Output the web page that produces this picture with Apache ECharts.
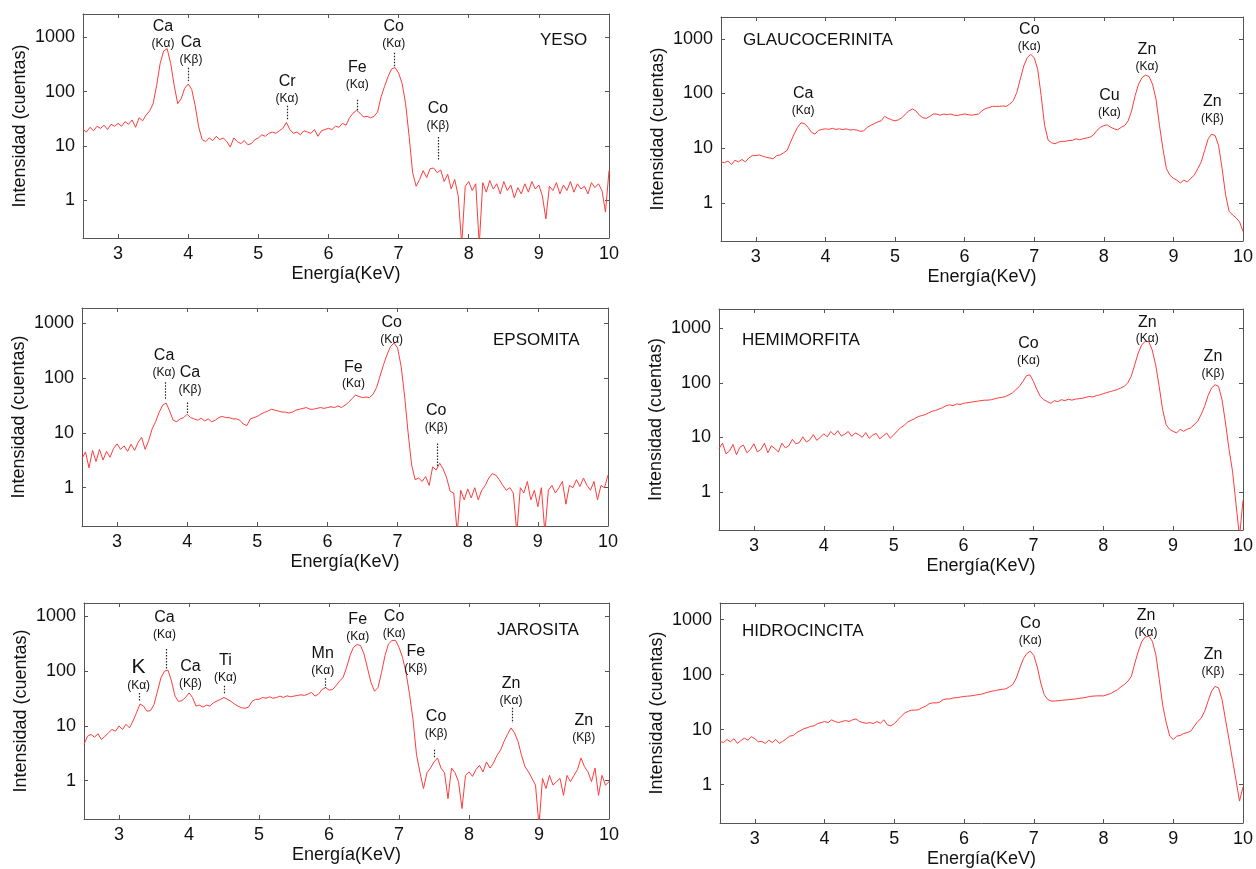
<!DOCTYPE html>
<html>
<head>
<meta charset="utf-8">
<title>Espectros XRF</title>
<script src="https://cdn.jsdelivr.net/npm/echarts@6/dist/echarts.min.js"></script>
<style>
  html, body { margin: 0; padding: 0; background: #fff; }
  #chart { width: 1256px; height: 869px; }
</style>
</head>
<body>
<div id="chart"></div>
<script>
// energy channels (keV), shared by every spectrum
const energy = [
  2.5, 2.55, 2.6, 2.65, 2.7, 2.75, 2.8, 2.85, 2.9, 2.95,
  3, 3.05, 3.1, 3.15, 3.2, 3.25, 3.3, 3.35, 3.4, 3.45,
  3.5, 3.55, 3.6, 3.65, 3.7, 3.75, 3.8, 3.85, 3.9, 3.95,
  4, 4.05, 4.1, 4.15, 4.2, 4.25, 4.3, 4.35, 4.4, 4.45,
  4.5, 4.55, 4.6, 4.65, 4.7, 4.75, 4.8, 4.85, 4.9, 4.95,
  5, 5.05, 5.1, 5.15, 5.2, 5.25, 5.3, 5.35, 5.4, 5.45,
  5.5, 5.55, 5.6, 5.65, 5.7, 5.75, 5.8, 5.85, 5.9, 5.95,
  6, 6.05, 6.1, 6.15, 6.2, 6.25, 6.3, 6.35, 6.4, 6.45,
  6.5, 6.55, 6.6, 6.65, 6.7, 6.75, 6.8, 6.85, 6.9, 6.95,
  7, 7.05, 7.1, 7.15, 7.2, 7.25, 7.3, 7.35, 7.4, 7.45,
  7.5, 7.55, 7.6, 7.65, 7.7, 7.75, 7.8, 7.85, 7.9, 7.95,
  8, 8.05, 8.1, 8.15, 8.2, 8.25, 8.3, 8.35, 8.4, 8.45,
  8.5, 8.55, 8.6, 8.65, 8.7, 8.75, 8.8, 8.85, 8.9, 8.95,
  9, 9.05, 9.1, 9.15, 9.2, 9.25, 9.3, 9.35, 9.4, 9.45,
  9.5, 9.55, 9.6, 9.65, 9.7, 9.75, 9.8, 9.85, 9.9, 9.95,
  10
]

// counts per channel
const yeso = [
  20, 18, 22, 19, 23, 21, 24, 20, 25, 23,
  26, 23, 28, 25, 30, 22, 33, 29, 37, 44,
  60, 130, 330, 560, 620, 330, 130, 60, 74, 115,
  138, 110, 55, 22, 13, 12, 14, 12.5, 15, 13,
  14, 12, 9.5, 14, 12, 11, 12.5, 10.5, 11, 13,
  14, 16, 15, 17, 18, 17, 19, 21, 27, 20,
  17, 18, 16, 19, 18, 17, 20, 15, 19, 20,
  21, 20, 23, 22, 26, 24, 33, 40, 45, 40,
  34, 35, 33, 35, 42, 80, 125, 190, 262, 278,
  220, 142, 60, 15, 3.2, 1.8, 2.4, 3.5, 2.6, 3.8,
  3.9, 3.2, 3.6, 2.2, 3.0, 1.6, 2.4, 1.2, 0.15, 1.8,
  2.2, 1.5, 2.0, 0.15, 2.1, 1.4, 2.3, 1.6, 2.0, 1.3,
  2.2, 1.5, 1.9, 1.1, 1.7, 1.3, 2.0, 1.4, 2.2, 1.6,
  1.9, 1.2, 0.45, 1.8, 1.5, 2.1, 1.3, 1.9, 1.5, 2.2,
  1.4, 2.0, 1.6, 1.8, 1.3, 2.1, 1.7, 2.0, 1.5, 0.6,
  3.5
]

const epsomita = [
  3.4, 4.5, 2.3, 4.8, 3.0, 5.0, 3.2, 4.6, 3.6, 5.2,
  6.3, 5.0, 5.8, 4.6, 6.2, 4.8, 6.7, 8.3, 5.0, 7.2,
  11.8, 16, 23.6, 32, 35, 25, 17, 16, 18, 19,
  22, 19, 18, 17, 18.5, 16.5, 18, 16, 17, 19,
  20, 19, 19, 18, 18, 17, 14.5, 13.6, 18, 19,
  20, 22, 23.6, 25, 27, 26, 25, 24, 24, 23,
  24, 26, 27, 28, 29, 27, 27, 28, 29, 28,
  29, 30, 29, 31, 29, 32, 36, 42, 49, 46,
  44, 45, 44, 51, 67, 109, 177, 268, 379, 435,
  354, 165, 47, 10, 2.6, 1.4, 1.5, 1.3, 1.6, 1.1,
  2.4, 2.1, 2.8, 2.2, 1.5, 0.86, 0.8, 0.15, 0.9, 0.6,
  0.95, 0.65, 1.0, 0.6, 0.9, 1.1, 1.5, 1.8, 1.7, 1.4,
  1.1, 0.9, 1.0, 0.8, 0.15, 1.0, 0.8, 1.3, 0.6, 0.9,
  0.45, 1.0, 0.15, 0.9, 1.1, 0.8, 1.0, 1.3, 0.5, 1.1,
  1.0, 1.4, 1.05, 1.5, 1.1, 0.9, 1.3, 0.6, 1.1, 1.0,
  1.7
]

const jarosita = [
  4.6, 6.5, 7.0, 6.2, 7.2, 5.6, 6.5, 7.5, 8.6, 8.0,
  10, 8.6, 10.7, 9.2, 12.3, 17.4, 25, 23, 18.6, 19,
  24.5, 43, 76, 100, 104, 66, 35, 28, 29, 33,
  40, 33, 23, 24, 22, 24, 23, 26.5, 28.5, 30.5,
  33, 30.5, 28, 25, 23, 21.5, 21, 22, 28, 30.5,
  30.5, 33, 32, 34, 32, 33, 35, 33, 35.5, 34,
  35, 36, 37, 36, 38, 41, 35, 38, 46, 50,
  45, 46, 54, 66, 76, 115, 192, 272, 305, 293,
  206, 113, 62, 43, 50, 94, 192, 314, 362, 365,
  272, 178, 95, 38, 13, 3.0, 1.4, 0.72, 1.4, 1.7,
  2.2, 2.6, 1.7, 1.4, 0.47, 1.7, 1.4, 0.96, 0.31, 1.25,
  1.45, 1.2, 1.6, 1.9, 1.45, 2.2, 1.7, 2.1, 2.9, 3.6,
  5.2, 7.0, 9.2, 7.5, 5.2, 2.9, 1.8, 1.45, 1.1, 0.83,
  0.15, 1.1, 0.72, 1.25, 0.83, 0.96, 1.1, 0.54, 1.25, 0.96,
  1.25, 1.6, 2.6, 1.8, 1.45, 0.96, 1.7, 0.54, 1.25, 0.83,
  0.96
]

const glaucocerinita = [
  5.6, 5.4, 5.8, 5.0, 6.0, 5.6, 6.2, 5.6, 6.6, 7.3,
  7.3, 7.5, 7.1, 6.8, 6.6, 6.4, 7.3, 7.5, 8.2, 9.1,
  12.9, 18, 24, 29, 28, 24, 19.5, 18, 21, 22,
  22.5, 22, 23, 22, 22.5, 21.8, 22.5, 21.4, 21.8, 21.4,
  20.3, 20.6, 24, 26, 28, 30, 31.5, 38, 35, 33,
  31.5, 33, 36, 42, 48, 52, 48, 40, 36, 35,
  38, 42, 42, 40, 42, 41, 42, 40, 39.5, 41,
  42, 41, 40, 41, 42, 48, 53, 55, 58, 58,
  58, 59, 58, 64, 74, 104, 182, 318, 450, 519,
  450, 277, 91, 26, 14, 12.5, 12, 12.9, 13.3, 13.3,
  13.8, 13.8, 14.8, 14.2, 14.8, 15.3, 15.8, 17.3, 21, 24,
  25.8, 26.6, 24, 22.5, 21.6, 24, 25.8, 31.5, 48, 91,
  148, 195, 216, 204, 148, 79, 26, 9.7, 4.2, 3.2,
  2.8, 2.6, 2.3, 2.6, 2.4, 2.8, 3.2, 4.2, 5.6, 9.1,
  14.8, 18, 17, 11, 4.2, 1.4, 0.7, 0.6, 0.53, 0.45,
  0.3
]

const hemimorfita = [
  6.2, 7.8, 5.0, 5.6, 7.4, 4.8, 6.6, 7.2, 5.2, 6.0,
  7.6, 5.4, 6.0, 7.8, 5.2, 7.0, 6.2, 5.4, 7.8, 6.4,
  7.0, 9.2, 7.6, 8.0, 10.2, 8.2, 9.0, 11.2, 8.8, 10.0,
  11.6, 10.2, 12.8, 11.0, 13.2, 10.6, 11.4, 12.8, 10.4, 12.0,
  11.2, 10.0, 12.2, 9.6, 11.0, 11.8, 9.4, 10.6, 12.0, 9.6,
  11.0, 13.0, 15.0, 16.5, 19.0, 20.5, 22.0, 24.0, 25.0, 26.0,
  28, 30, 31, 33, 35, 38, 39.5, 38, 41, 40,
  42, 43, 44, 45, 46, 47, 48, 48, 49, 51,
  53, 54, 56, 60, 65, 75, 86, 106, 134, 140,
  106, 75, 56, 49, 45, 42, 47, 45, 49, 47,
  50, 48, 50, 51, 52, 54, 56, 55, 58, 60,
  63, 66, 69, 72, 75, 80, 86, 99, 131, 213,
  349, 496, 570, 570, 401, 213, 86, 32, 17, 14,
  12.9, 12, 14, 12.9, 14.1, 14.8, 17, 19.6, 26, 37,
  58, 80, 92, 86, 49, 18.3, 6.0, 2.4, 0.6, 0.15,
  0.7
]

const hidrocincita = [
  6.1, 5.8, 6.6, 6.0, 6.8, 5.6, 6.3, 7.0, 6.4, 7.4,
  6.8, 6.0, 6.1, 5.6, 6.4, 5.8, 6.6, 5.6, 6.1, 6.8,
  7.6, 7.8, 8.8, 9.5, 10.3, 10.8, 11.4, 11.7, 12.8, 13.4,
  14, 13.4, 15, 14, 13.4, 14, 14.6, 14, 15, 15.6,
  14, 13.4, 13, 13.4, 12.8, 14, 13, 15, 12.2, 11.7,
  12.8, 15, 17.5, 20, 21.5, 22.5, 22.5, 23, 25, 26.5,
  29.5, 30.5, 30.5, 31.5, 35, 36, 36, 37.6, 38, 39,
  40, 40.5, 41, 42, 43, 44, 46, 48, 50, 51,
  53, 54, 55, 60, 66, 87, 132, 193, 241, 266,
  222, 138, 70, 43, 35, 33, 33, 33.5, 34, 34.5,
  35, 35.5, 36, 37, 37.6, 38.5, 40, 40.5, 41, 41,
  41, 43, 45, 49, 53, 60, 66, 76, 93, 163,
  266, 404, 484, 497, 404, 231, 81, 27, 13.2, 7.6,
  6.6, 7.6, 7.8, 8.5, 8.8, 9.3, 11.5, 14, 16, 21.5,
  33, 50, 61, 57, 35, 15, 6.6, 2.8, 1.2, 0.5,
  0.9
]

const panelNames = ['YESO', 'EPSOMITA', 'JAROSITA', 'GLAUCOCERINITA', 'HEMIMORFITA', 'HIDROCINCITA']
const spectra = [yeso, epsomita, jarosita, glaucocerinita, hemimorfita, hidrocincita]
const yTickLabels = [1, 10, 100, 1000]
const xTickLabels = [3, 4, 5, 6, 7, 8, 9, 10]

// peak labels: [element, line, label keV, label counts, marker keV, marker top, marker bottom]
const peaks = [
  [
    ['Ca', '(Kα)', 3.64, 1170],
    ['Ca', '(Kβ)', 4.04, 605, 4.0, 275, 157],
    ['Cr', '(Kα)', 5.41, 113, 5.41, 55, 30],
    ['Fe', '(Kα)', 6.41, 204, 6.41, 71, 43],
    ['Co', '(Kα)', 6.93, 1170, 6.94, 520, 275],
    ['Co', '(Kβ)', 7.56, 36.6, 7.57, 14.6, 5.5]
  ],
  [
    ['Ca', '(Kα)', 3.67, 188, 3.69, 84, 41],
    ['Ca', '(Kβ)', 4.04, 92, 4.0, 36, 23],
    ['Fe', '(Kα)', 6.37, 118],
    ['Co', '(Kα)', 6.915, 766],
    ['Co', '(Kβ)', 7.55, 19.2, 7.56, 6.4, 2.5]
  ],
  [
    ['K', '(Kα)', 3.28, 86.5, 3.29, 40, 27.5],
    ['Ca', '(Kα)', 3.65, 697, 3.68, 254, 109],
    ['Ca', '(Kβ)', 4.02, 90],
    ['Ti', '(Kα)', 4.52, 116, 4.51, 54, 37],
    ['Mn', '(Kα)', 5.91, 157, 5.95, 74, 49],
    ['Fe', '(Kα)', 6.41, 646],
    ['Co', '(Kα)', 6.93, 743],
    ['Fe', '(Kβ)', 7.24, 166],
    ['Co', '(Kβ)', 7.53, 11.2, 7.51, 3.66, 2.57],
    ['Zn', '(Kα)', 8.6, 44, 8.62, 21.4, 11.3],
    ['Zn', '(Kβ)', 9.64, 9.3]
  ],
  [
    ['Ca', '(Kα)', 3.68, 72.6],
    ['Co', '(Kα)', 6.93, 1079],
    ['Cu', '(Kα)', 8.08, 67.9],
    ['Zn', '(Kα)', 8.62, 466],
    ['Zn', '(Kβ)', 9.56, 53.3]
  ],
  [
    ['Co', '(Kα)', 6.93, 388],
    ['Zn', '(Kα)', 8.63, 963],
    ['Zn', '(Kβ)', 9.57, 221]
  ],
  [
    ['Co', '(Kα)', 6.95, 635],
    ['Zn', '(Kα)', 8.61, 882],
    ['Zn', '(Kβ)', 9.57, 171]
  ]
]

// plot rectangles in pixels, top of log axis, where the mineral name goes
const panels = [
  { left: 83, top: 14, width: 526, height: 224, yMax: 2700, nameX: 540, nameY: 40 },
  { left: 82, top: 308, width: 526, height: 218, yMax: 1900, nameX: 493, nameY: 340 },
  { left: 84, top: 603, width: 525, height: 216, yMax: 1750, nameX: 497, nameY: 630 },
  { left: 721, top: 17, width: 526, height: 224, yMax: 2500, nameX: 743, nameY: 40 },
  { left: 719, top: 309, width: 528, height: 221, yMax: 2250, nameX: 742, nameY: 340 },
  { left: 720, top: 603, width: 527, height: 220, yMax: 2000, nameX: 742, nameY: 631 }
]

const FONT = '"Liberation Sans", Arial, Helvetica, sans-serif'
const INK = '#111'
const FRAME = '#555'
const RED = '#ff3c3c'

const xLabel = v => {
  const r = Math.round(v)
  return Math.abs(v - r) < 1e-6 && xTickLabels.includes(r) ? String(r) : ''
}
const yLabel = v => {
  const r = Math.round(v)
  return Math.abs(v - r) < 1e-6 && yTickLabels.includes(r) ? String(r) : ''
}

const frameLine = { show: true, onZero: false, lineStyle: { color: FRAME, width: 1 } }
const innerTick = { show: true, inside: true, length: 4, lineStyle: { color: FRAME } }

const grid = []
const xAxis = []
const yAxis = []
const series = []
const graphic = []

panels.forEach((p, i) => {
  grid.push({ left: p.left, top: p.top, width: p.width, height: p.height })

  xAxis.push({
    type: 'value', gridIndex: i, position: 'bottom', min: 2.5, max: 10, splitNumber: 8,
    name: 'Energía(KeV)', nameLocation: 'middle', nameGap: 27,
    nameTextStyle: { fontFamily: FONT, fontSize: 18, color: INK },
    axisLine: frameLine, axisTick: innerTick, splitLine: { show: false },
    axisLabel: { formatter: xLabel, margin: 7, fontFamily: FONT, fontSize: 18, color: INK }
  })
  xAxis.push({
    type: 'value', gridIndex: i, position: 'top', min: 2.5, max: 10, splitNumber: 8,
    axisLine: frameLine, axisTick: innerTick, splitLine: { show: false },
    axisLabel: { show: false }
  })
  yAxis.push({
    type: 'log', logBase: 10, gridIndex: i, position: 'left', min: 0.2, max: p.yMax,
    name: 'Intensidad (cuentas)', nameLocation: 'middle', nameGap: 54,
    nameTextStyle: { fontFamily: FONT, fontSize: 18, color: INK },
    axisLine: frameLine, axisTick: innerTick, splitLine: { show: false },
    axisLabel: { formatter: yLabel, margin: 8, fontFamily: FONT, fontSize: 18, color: INK }
  })
  yAxis.push({
    type: 'log', logBase: 10, gridIndex: i, position: 'right', min: 0.2, max: p.yMax,
    axisLine: frameLine, axisTick: innerTick, splitLine: { show: false },
    axisLabel: { show: false }
  })

  const labels = peaks[i].map(([el, sh, e, c]) => ({
    coord: [e, c],
    label: { formatter: `{${el === 'K' ? 'big' : 'el'}|${el}}\n{sh|${sh}}` }
  }))
  const markers = peaks[i]
    .filter(pk => pk.length > 4)
    .map(pk => [{ coord: [pk[4], pk[5]] }, { coord: [pk[4], pk[6]] }])

  series.push({
    type: 'line',
    name: panelNames[i],
    xAxisIndex: 2 * i,
    yAxisIndex: 2 * i,
    data: energy.map((e, k) => [e, spectra[i][k]]),
    showSymbol: false,
    symbol: 'none',
    lineStyle: { color: RED, width: 1 },
    itemStyle: { color: RED },
    emphasis: { disabled: true },
    markPoint: {
      silent: true,
      symbol: 'circle',
      symbolSize: 1,
      itemStyle: { color: 'rgba(0,0,0,0)' },
      label: {
        show: true, position: 'inside', align: 'center',
        rich: {
          el: { fontFamily: FONT, fontSize: 16, lineHeight: 20, color: INK, align: 'center' },
          big: { fontFamily: FONT, fontSize: 21, lineHeight: 22, color: INK, align: 'center' },
          sh: { fontFamily: FONT, fontSize: 12, lineHeight: 14, color: INK, align: 'center' }
        }
      },
      data: labels
    },
    markLine: {
      silent: true,
      symbol: ['none', 'none'],
      label: { show: false },
      lineStyle: { color: '#222', type: [1.5, 1.5], width: 1.2 },
      data: markers
    }
  })

  graphic.push({
    type: 'text', x: p.nameX, y: p.nameY, silent: true,
    style: { text: panelNames[i], fill: INK, font: `17px ${FONT}`, align: 'left', verticalAlign: 'middle' }
  })
})

const chart = echarts.init(document.getElementById('chart'))
chart.setOption({
  animation: false,
  backgroundColor: '#fff',
  grid,
  xAxis,
  yAxis,
  series,
  graphic
})

window.addEventListener('resize', () => chart.resize())
</script>
</body>
</html>
